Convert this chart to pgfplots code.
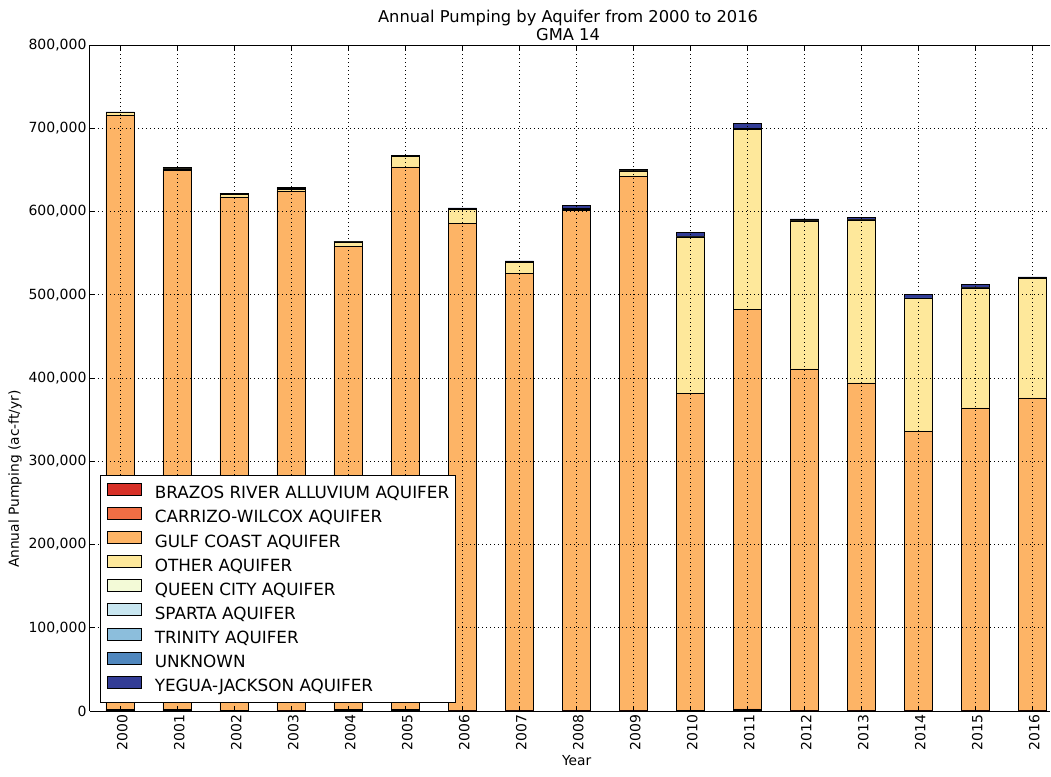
\documentclass[border=0pt]{standalone}
\usepackage{fontspec}
\setmainfont{DejaVu Sans}
\usepackage{pgfplots}
\usepackage{pgfplotstable}
\pgfplotsset{compat=1.18}
\definecolor{cbr}{RGB}{215,48,39}
\definecolor{ccw}{RGB}{240,110,68}
\definecolor{cgc}{RGB}{253,180,102}
\definecolor{cot}{RGB}{254,232,155}
\definecolor{cqc}{RGB}{243,250,215}
\definecolor{csp}{RGB}{200,230,240}
\definecolor{ctr}{RGB}{140,190,220}
\definecolor{cun}{RGB}{80,135,190}
\definecolor{cyj}{RGB}{50,60,150}
\pgfplotstableread{
x br cw gc ot qc sp tr un yj
0 800 1200 714000 3000 300 0 0 0 300
1 600 1000 647500 2000 500 300 200 0 500
2 300 800 616500 2500 1200 0 0 0 300
3 200 500 624000 2000 800 300 0 0 1000
4 600 1000 556500 4500 1000 0 0 0 400
5 500 1000 652000 13000 500 0 0 0 500
6 200 300 585500 17000 500 0 0 0 800
7 100 200 525000 13500 300 0 0 0 1500
8 100 200 600700 1500 500 0 0 500 4000
9 100 200 642000 6000 500 0 0 500 1500
10 300 800 380000 188000 500 0 0 500 4500
11 500 2000 479500 217000 500 0 0 500 5500
12 200 800 410000 177600 400 0 0 300 1800
13 200 600 393200 196000 300 0 0 300 2000
14 200 600 335200 159500 300 0 0 500 3700
15 200 600 363200 144000 300 0 0 500 3200
16 200 600 375200 143200 300 0 0 300 1700
}\data
\begin{document}
\begin{tikzpicture}
\begin{axis}[
  at={(0pt,0pt)}, anchor=south west,
  scale only axis, width=960pt, height=666pt,
  ybar stacked, bar width=0.5,
  xmin=-0.53, xmax=16.31, ymin=0, ymax=800000,
  axis y line*=left,
  axis line style={black, line width=1pt},
  xtick={0,1,2,3,4,5,6,7,8,9,10,11,12,13,14,15,16},
  xticklabels={2000,2001,2002,2003,2004,2005,2006,2007,2008,2009,2010,2011,2012,2013,2014,2015,2016},
  ytick={0,100000,200000,300000,400000,500000,600000,700000,800000},
  yticklabels={0,{100,000},{200,000},{300,000},{400,000},{500,000},{600,000},{700,000},{800,000}},
  scaled y ticks=false,
  tick align=inside, major tick length=5pt,
  tick style={black, line width=0.8pt},
  ticklabel style={font=\fontsize{14}{16}\selectfont},
  x tick label style={rotate=90, anchor=east, xshift=0pt, yshift=-2pt},
  grid=major,
  grid style={black, line width=0.7pt, dash pattern=on 1pt off 3pt},
  axis on top,
  xlabel={Year},
  ylabel={Annual Pumping (ac-ft/yr)},
  label style={font=\fontsize{13.8}{16}\selectfont},
  x label style={at={(ticklabel cs:0.507)}, anchor=north, yshift=2pt},
  y label style={at={(ticklabel cs:0.348)}, anchor=south, yshift=0pt},
  title={Annual Pumping by Aquifer from 2000 to 2016\\GMA 14},
  title style={align=center, font=\fontsize{16.3}{18}\selectfont, at={(rel axis cs:0.498,1)}, anchor=south, yshift=-5.5pt},
  legend style={at={(rel axis cs:0.0104,0.012)}, anchor=south west, draw=black, line width=1pt,
    font=\fontsize{16.8}{18}\selectfont, inner xsep=6.5pt, inner ysep=7.9pt,
    nodes={inner sep=0pt, text height=11pt, text depth=3pt}, row sep=5.2pt,
    /tikz/every odd column/.append style={column sep=13pt}},
  legend cell align=left,
  legend image code/.code={\draw[#1, draw=black, line width=0.8pt] (0pt,-0.5pt) rectangle (34pt,11.5pt);},
  every axis plot/.append style={draw=black, line width=0.6pt},
]
\addplot[fill=cbr] table[x=x, y=br] {\data};
\addplot[fill=ccw] table[x=x, y=cw] {\data};
\addplot[fill=cgc] table[x=x, y=gc] {\data};
\addplot[fill=cot] table[x=x, y=ot] {\data};
\addplot[fill=cqc] table[x=x, y=qc] {\data};
\addplot[fill=csp] table[x=x, y=sp] {\data};
\addplot[fill=ctr] table[x=x, y=tr] {\data};
\addplot[fill=cun] table[x=x, y=un] {\data};
\addplot[fill=cyj] table[x=x, y=yj] {\data};
\legend{BRAZOS RIVER ALLUVIUM AQUIFER, CARRIZO-WILCOX AQUIFER, GULF COAST AQUIFER, OTHER AQUIFER, QUEEN CITY AQUIFER, SPARTA AQUIFER, TRINITY AQUIFER, UNKNOWN, YEGUA-JACKSON AQUIFER}
\end{axis}
\pgfresetboundingbox
\path (-90pt,-65pt) rectangle (961pt,711pt);
\end{tikzpicture}
\end{document}
